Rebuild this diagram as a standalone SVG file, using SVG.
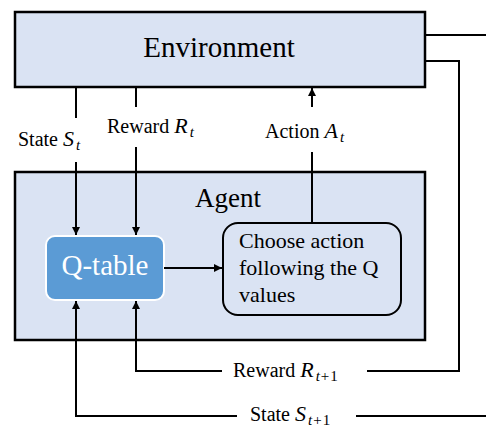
<svg xmlns="http://www.w3.org/2000/svg" width="486" height="428" viewBox="0 0 486 428">
<defs>
<style>
.box{fill:#dae3f3;stroke:#000;stroke-width:2.5}
text{font-family:'Liberation Serif','DejaVu Serif','Times New Roman',serif;fill:#000}
.lbl{font-size:20px}
.m{font-style:italic;font-size:22px}
.sub{font-size:15px}
.ln{fill:none;stroke:#000;stroke-width:2}
</style>
<marker id="ah" viewBox="0 0 10 10" refX="10" refY="5" markerWidth="8" markerHeight="8" markerUnits="userSpaceOnUse" orient="auto">
<path d="M0,0 L10,5 L0,10 Z" fill="#000"/>
</marker>
</defs>
<rect width="486" height="428" fill="#fff"/>
<g font-family="Liberation Serif, DejaVu Serif, serif">
<g id="environment">
<rect class="box" x="15" y="12" width="410" height="75"/>
<text x="219" y="57" font-size="29" text-anchor="middle">Environment</text>
</g>
<g id="agent">
<rect class="box" x="15" y="172" width="410" height="168"/>
<text x="228" y="207" font-size="27" text-anchor="middle">Agent</text>
</g>
<g id="qtable">
<rect x="46" y="236" width="118" height="64" rx="9" fill="#5b9bd5" stroke="#fff" stroke-width="2"/>
<text x="105" y="275" font-size="29" text-anchor="middle" style="fill:#fff">Q-table</text>
</g>
<g id="choose">
<rect x="223" y="223" width="178" height="92" rx="15" fill="#dae3f3" stroke="#000" stroke-width="2"/>
<text font-size="22"><tspan x="239" y="248">Choose action</tspan><tspan x="239" y="275">following the Q</tspan><tspan x="239" y="302">values</tspan></text>
</g>
<g id="connectors">
<path class="ln" d="M76,87 V118"/>
<path class="ln" d="M76,162 V235" marker-end="url(#ah)"/>
<path class="ln" d="M136,87 V107"/>
<path class="ln" d="M136,147 V235" marker-end="url(#ah)"/>
<path class="ln" d="M312,223 V152"/>
<path class="ln" d="M312,107 V88" marker-end="url(#ah)"/>
<path class="ln" d="M164,268 H222" marker-end="url(#ah)"/>
<path class="ln" d="M425,35 H487"/>
<path class="ln" d="M425,61 H459 V371 H367"/>
<path class="ln" d="M222,371 H136 V301" marker-end="url(#ah)"/>
<path class="ln" d="M487,416 H356"/>
<path class="ln" d="M237,416 H76 V301" marker-end="url(#ah)"/>
</g>
<g id="labels">
<text class="lbl" x="18" y="146">State <tspan class="m">S</tspan><tspan class="m sub" dx="2" dy="4">t</tspan></text>
<text class="lbl" x="107" y="133">Reward <tspan class="m">R</tspan><tspan class="m sub" dx="2" dy="4">t</tspan></text>
<text class="lbl" x="265" y="138">Action <tspan class="m">A</tspan><tspan class="m sub" dx="2" dy="4">t</tspan></text>
<text class="lbl" x="233" y="377">Reward <tspan class="m">R</tspan><tspan class="m sub" dx="2" dy="4">t</tspan><tspan class="sub" dx="1">+</tspan><tspan class="sub" dx="1">1</tspan></text>
<text class="lbl" x="250" y="421">State <tspan class="m">S</tspan><tspan class="m sub" dx="2" dy="4">t</tspan><tspan class="sub" dx="1">+</tspan><tspan class="sub" dx="1">1</tspan></text>
</g>
</g>
</svg>
